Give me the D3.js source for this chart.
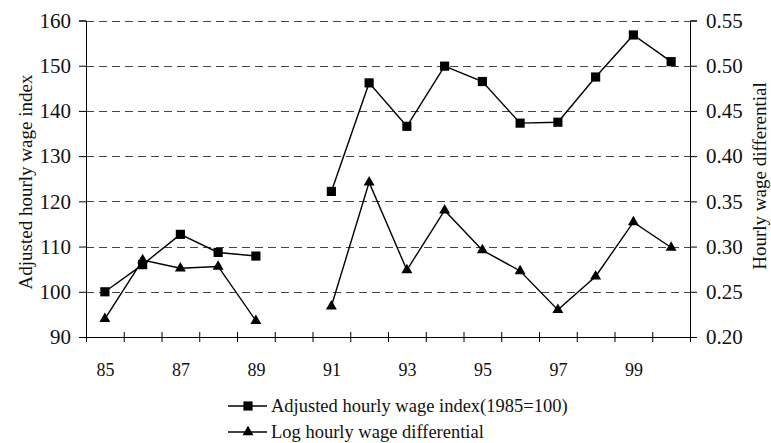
<!DOCTYPE html>
<html>
<head>
<meta charset="UTF-8">
<style>
  body { margin: 0; background: #fff; }
  svg, svg text { font-family: 'Liberation Serif', 'Times New Roman', Times, 'DejaVu Serif', serif; }
</style>
</head>
<body>
<svg></svg>
<script src="https://d3js.org/d3.v7.min.js"></script>
<script>
let width = 771, height = 443;
let serif = "'Liberation Serif', 'Times New Roman', Times, 'DejaVu Serif', serif";

// data
let years = [1985, 1986, 1987, 1988, 1989, 1990, 1991, 1992, 1993, 1994, 1995, 1996, 1997, 1998, 1999, 2000];
let wageIndex = [100, 106.0, 112.7, 108.7, 107.9, null, 122.2, 146.2, 136.6, 149.9, 146.5, 137.3, 137.5, 147.5, 156.8, 150.9];
let wageDiff = [0.220, 0.285, 0.276, 0.278, 0.218, null, 0.234, 0.371, 0.274, 0.340, 0.296, 0.273, 0.230, 0.267, 0.327, 0.299];
let yearLabels = [1985, 1987, 1989, 1991, 1993, 1995, 1997, 1999];
let leftTicks = [90, 100, 110, 120, 130, 140, 150, 160];
let rightTicks = [0.20, 0.25, 0.30, 0.35, 0.40, 0.45, 0.50, 0.55];

let plot = { left: 86, right: 690, top: 20.5, bottom: 337 };

let svg = d3.select("svg")
    .attr("width", width)
    .attr("height", height)
    .attr("viewBox", "0 0 " + width + " " + height);

let x = d3.scaleLinear()
    .domain([1984.5, 2000.5])
    .range([plot.left, plot.right]);
let yL = d3.scaleLinear().domain([90, 160]).range([plot.bottom, plot.top]);
let yR = d3.scaleLinear().domain([0.20, 0.55]).range([plot.bottom, plot.top]);

// dashed gridlines
svg.append("g")
    .selectAll("line")
    .data(leftTicks.slice(1))
    .enter().append("line")
    .attr("x1", plot.left)
    .attr("x2", plot.right)
    .attr("y1", d => Math.round(yL(d)) + 0.5)
    .attr("y2", d => Math.round(yL(d)) + 0.5)
    .attr("stroke", "#444")
    .attr("stroke-width", 1)
    .attr("stroke-dasharray", "8,5");

// left axis
let leftAxis = svg.append("g")
    .attr("transform", "translate(" + plot.left + ",0)")
    .call(d3.axisLeft(yL).tickValues(leftTicks).tickSize(7).tickPadding(8).tickFormat(d3.format("d")));
leftAxis.attr("font-family", serif);
leftAxis.selectAll("text").attr("font-size", 21).attr("fill", "#111");

// right axis
let rightAxis = svg.append("g")
    .attr("transform", "translate(" + plot.right + ",0)")
    .call(d3.axisRight(yR).tickValues(rightTicks).tickSize(7).tickPadding(9).tickFormat(d3.format(".2f")));
rightAxis.attr("font-family", serif);
rightAxis.selectAll("text").attr("font-size", 21).attr("fill", "#111");

// x axis: ticks between years, crossing the axis line
let bounds = d3.range(1984.5, 2001, 1);
let bottomAxis = svg.append("g")
    .attr("transform", "translate(0," + plot.bottom + ")")
    .call(d3.axisBottom(x).tickValues(bounds).tickSize(5).tickFormat(""));
bottomAxis.selectAll(".tick line").attr("y1", -5).attr("y2", 5);

let labelAxis = svg.append("g")
    .attr("transform", "translate(0," + plot.bottom + ")")
    .call(d3.axisBottom(x).tickValues(yearLabels).tickSize(0).tickPadding(26).tickFormat(d => String(d).slice(2)));
labelAxis.select(".domain").remove();
labelAxis.attr("font-family", serif);
labelAxis.selectAll("text").attr("font-size", 18).attr("fill", "#111");

svg.selectAll(".domain").attr("stroke", "#000");
svg.selectAll(".tick line").attr("stroke", "#000");

// series
let indexData = years.map((yr, i) => ({ year: yr, v: wageIndex[i] }));
let diffData = years.map((yr, i) => ({ year: yr, v: wageDiff[i] }));

let indexLine = d3.line().defined(d => d.v !== null).x(d => x(d.year)).y(d => yL(d.v));
let diffLine = d3.line().defined(d => d.v !== null).x(d => x(d.year)).y(d => yR(d.v));

svg.append("path")
    .datum(indexData)
    .attr("d", indexLine)
    .attr("fill", "none")
    .attr("stroke", "#000")
    .attr("stroke-width", 1.4);

svg.append("path")
    .datum(diffData)
    .attr("d", diffLine)
    .attr("fill", "none")
    .attr("stroke", "#000")
    .attr("stroke-width", 1.4);

let square = d3.symbol().type(d3.symbolSquare).size(84);
let triangle = d3.symbol().type(d3.symbolTriangle).size(52);

svg.append("g")
    .selectAll("path")
    .data(indexData.filter(d => d.v !== null))
    .enter().append("path")
    .attr("d", square)
    .attr("transform", d => "translate(" + x(d.year) + "," + yL(d.v) + ")")
    .attr("fill", "#000");

svg.append("g")
    .selectAll("path")
    .data(diffData.filter(d => d.v !== null))
    .enter().append("path")
    .attr("d", triangle)
    .attr("transform", d => "translate(" + x(d.year) + "," + yR(d.v) + ")")
    .attr("fill", "#000");

// axis titles
svg.append("text")
    .attr("transform", "translate(32,182) rotate(-90)")
    .attr("text-anchor", "middle")
    .attr("font-family", serif)
    .attr("font-size", 19)
    .attr("fill", "#111")
    .text("Adjusted hourly wage index");

svg.append("text")
    .attr("transform", "translate(766,176) rotate(-90)")
    .attr("text-anchor", "middle")
    .attr("font-family", serif)
    .attr("font-size", 19)
    .attr("fill", "#111")
    .text("Hourly wage differential");

// legend
let legendItems = [
    { label: "Adjusted hourly wage index(1985=100)", sym: square, y: 406 },
    { label: "Log hourly wage differential", sym: triangle, y: 432 }
];
let legend = svg.append("g").selectAll("g")
    .data(legendItems)
    .enter().append("g")
    .attr("transform", d => "translate(228," + d.y + ")");
legend.append("line")
    .attr("x1", 0).attr("x2", 39)
    .attr("stroke", "#000").attr("stroke-width", 1.4);
legend.append("path")
    .attr("d", d => d.sym())
    .attr("transform", "translate(20,0)")
    .attr("fill", "#000");
legend.append("text")
    .attr("x", 43)
    .attr("y", 6)
    .attr("font-family", serif)
    .attr("font-size", 18.5)
    .attr("fill", "#111")
    .text(d => d.label);
</script>
</body>
</html>
